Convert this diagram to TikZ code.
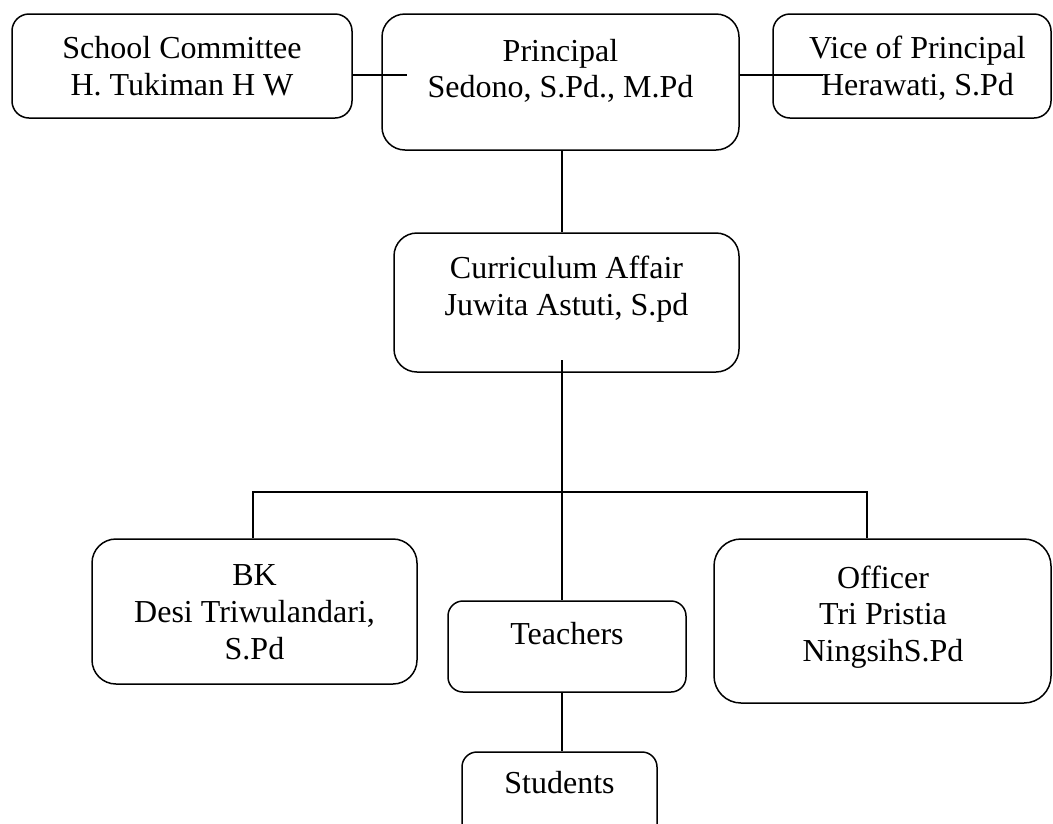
\documentclass[tikz,border=0pt]{standalone}
\usepackage{fontspec}
\setmainfont{Liberation Serif}
\begin{document}
\begin{tikzpicture}[x=1pt,y=-1pt,
  box/.style={draw, line width=1.5pt, inner sep=0pt},
  txt/.style={anchor=base, inner sep=0pt, font=\fontsize{32}{36}\selectfont},
  conn/.style={line width=1.5pt}]
\useasboundingbox (0,0) rectangle (1053,823);
\clip (0,0) rectangle (1053,823);
% boxes
\node[box, minimum width=340pt, minimum height=104pt, rounded corners=17pt] (sc) at (182,66) {};
\node[box, minimum width=357pt, minimum height=136pt, rounded corners=23pt] (pr) at (560.5,82) {};
\node[box, minimum width=278pt, minimum height=104pt, rounded corners=17pt] (vp) at (912,66) {};
\node[box, minimum width=345pt, minimum height=139pt, rounded corners=23pt] (cu) at (566.5,302.5) {};
\node[box, minimum width=325pt, minimum height=145pt, rounded corners=24pt] (bk) at (254.5,611.5) {};
\node[box, minimum width=238pt, minimum height=91pt, rounded corners=15pt] (te) at (567,646.5) {};
\node[box, minimum width=337pt, minimum height=164pt, rounded corners=27pt] (of) at (882.5,621) {};
\node[box, minimum width=195pt, minimum height=93pt, rounded corners=15pt] (st) at (559.5,798.5) {};
% texts
\node[txt] (sc1) at (182,58) {School Committee};
\node[txt] (sc2) at (182,95) {H. Tukiman H W};
\node[txt] (pr1) at (560.5,61) {Principal};
\node[txt] (pr2) at (560.5,97) {Sedono, S.Pd., M.Pd};
\node[txt] (vp1) at (917.5,58) {Vice of Principal};
\node[txt] (vp2) at (917.5,95) {Herawati, S.Pd};
\node[txt] (cu1) at (566.5,278) {Curriculum Affair};
\node[txt] (cu2) at (566.5,315) {Juwita Astuti, S.pd};
\node[txt] (bk1) at (254.5,585) {BK};
\node[txt] (bk2) at (254.5,622) {Desi Triwulandari,};
\node[txt] (bk3) at (254.5,659) {S.Pd};
\node[txt] (of1) at (883,588) {Officer};
\node[txt] (of2) at (883,624) {Tri Pristia};
\node[txt] (of3) at (883,661) {NingsihS.Pd};
\node[txt] (te1) at (567,644) {Teachers};
\node[txt] (st1) at (559.5,793) {Students};
% connector coordinates
\coordinate (scend) at (407,75);
\coordinate (vpend) at (823,75);
\coordinate (cuin) at (562,360);
\coordinate (trunk) at (562,492);
\coordinate (bkdrop) at (253,492);
\coordinate (ofdrop) at (867,492);
% connectors
\draw[conn] (sc.east |- scend) -- (scend);
\draw[conn] (pr.east |- vpend) -- (vpend);
\draw[conn] (pr.south -| cuin) -- (cuin |- cu.north);
\draw[conn] (cuin) -- (cuin |- te.north);
\draw[conn] (bkdrop |- bk.north) -- (bkdrop) -- (ofdrop) -- (ofdrop |- of.north);
\draw[conn] (te.south -| cuin) -- (cuin |- st.north);
\end{tikzpicture}
\end{document}
